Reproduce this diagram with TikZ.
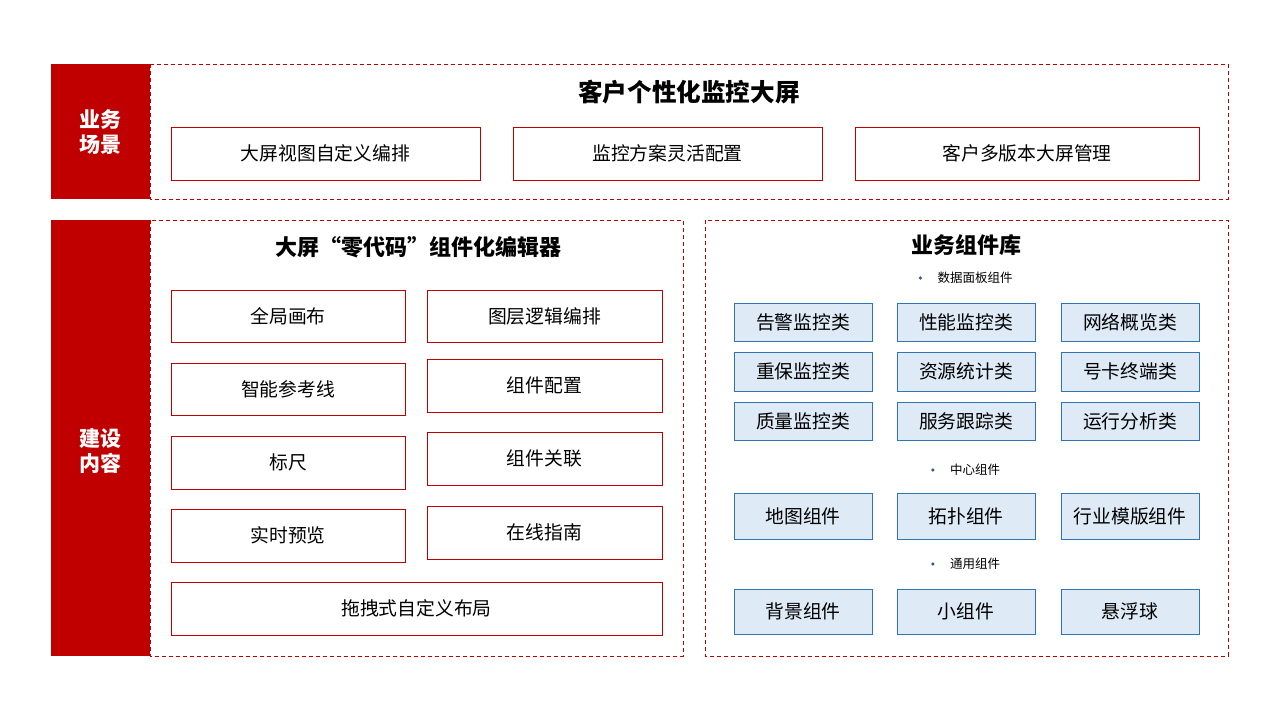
\documentclass[tikz,border=0pt]{standalone}
\usepackage{fontspec}
\setmainfont{Noto Sans CJK SC}
\usetikzlibrary{positioning}
\definecolor{darkred}{HTML}{C00000}
\definecolor{boxblue}{HTML}{2E75B6}
\definecolor{lightblue}{HTML}{DEEBF7}
\definecolor{dotblue}{HTML}{2F5597}
\tikzset{
	sidebar/.style={fill=darkred,draw=none,inner sep=0pt},
	sidetext/.style={text=white,font=\fontsize{21}{25}\selectfont\bfseries,align=center,inner sep=0pt},
	frame/.style={draw=darkred,dash pattern=on 4pt off 3pt,line width=0.8pt},
	redbox/.style={draw=darkred,line width=0.8pt,fill=white,font=\fontsize{18.8}{22}\selectfont,inner sep=0pt},
	bluebox/.style={draw=boxblue,line width=0.8pt,fill=lightblue,font=\fontsize{18.8}{22}\selectfont,inner sep=0pt,minimum width=138pt},
	heading/.style={font=\fontsize{22}{26}\selectfont\bfseries,inner sep=0pt},
	bulletlabel/.style={font=\fontsize{12.5}{15}\selectfont,inner sep=0pt}
}
\begin{document}
\begin{tikzpicture}[x=1pt,y=-1pt]
	\useasboundingbox (0,0) rectangle (1280,720);
	% business scenario
	\node[sidebar,minimum width=99pt,minimum height=135pt] (scene) at (100.5,131.5) {};
	\node[sidetext] (scenetext) at (100.5,132) {业务\\场景};
	\draw[frame] (150,64) rectangle (1228,199);
	\node[heading,font=\fontsize{24.6}{28}\selectfont\bfseries] (scenetitle) at (689,92) {客户个性化监控大屏};
	\node[redbox,minimum width=309pt,minimum height=53pt] (s1) at (325.5,153.5) {大屏视图自定义编排};
	\node[redbox,minimum width=309pt,minimum height=53pt] (s2) at (667.5,153.5) {监控方案灵活配置};
	\node[redbox,minimum width=344pt,minimum height=53pt] (s3) at (1027,153.5) {客户多版本大屏管理};
	% construction content
	\node[sidebar,minimum width=99pt,minimum height=436pt] (build) at (100.5,438) {};
	\node[sidetext] (buildtext) at (100.5,451) {建设\\内容};
	\draw[frame] (150,220) rectangle (683,656);
	\draw[frame] (705,220) rectangle (1228,656);
	\node[heading,font=\fontsize{22}{26}\selectfont\bfseries] (edittitle) at (418,247) {大屏“零代码”组件化编辑器};
	\node[redbox,minimum width=234pt,minimum height=52pt] (canvas) at (288,316) {全局画布};
	\node[redbox,minimum width=234pt,minimum height=52pt] (guide) at (288,389) {智能参考线};
	\node[redbox,minimum width=234pt,minimum height=53pt] (ruler) at (288,462.5) {标尺};
	\node[redbox,minimum width=234pt,minimum height=53pt] (preview) at (288,535.5) {实时预览};
	\node[redbox,minimum width=235pt,minimum height=52pt] (layer) at (544.5,316) {图层逻辑编排};
	\node[redbox,minimum width=235pt,minimum height=53pt] (config) at (544.5,385.5) {组件配置};
	\node[redbox,minimum width=235pt,minimum height=53pt] (link) at (544.5,458.5) {组件关联};
	\node[redbox,minimum width=235pt,minimum height=53pt] (help) at (544.5,532.5) {在线指南};
	\node[redbox,minimum width=491pt,minimum height=53pt] (drag) at (416.5,608.5) {拖拽式自定义布局};
	% component library
	\node[heading] (libtitle) at (966,245) {业务组件库};
	\node[bulletlabel] (panel) at (975,278) {数据面板组件};
	\fill[dotblue] ([xshift=-17pt]panel.west) circle (1.8pt);
	\node[bluebox,minimum height=38pt] (alarm) at (803,322) {告警监控类};
	\node[bluebox,minimum height=38pt] (perf) at (966,322) {性能监控类};
	\node[bluebox,minimum height=38pt] (net) at (1130,322) {网络概览类};
	\node[bluebox,minimum height=39pt] (vip) at (803,371.5) {重保监控类};
	\node[bluebox,minimum height=39pt] (res) at (966,371.5) {资源统计类};
	\node[bluebox,minimum height=39pt] (card) at (1130,371.5) {号卡终端类};
	\node[bluebox,minimum height=38pt] (quality) at (803,421) {质量监控类};
	\node[bluebox,minimum height=38pt] (trace) at (966,421) {服务跟踪类};
	\node[bluebox,minimum height=38pt] (ops) at (1130,421) {运行分析类};
	\node[bulletlabel] (center) at (975,470) {中心组件};
	\fill[dotblue] ([xshift=-17pt]center.west) circle (1.8pt);
	\node[bluebox,minimum height=46pt] (map) at (803,516) {地图组件};
	\node[bluebox,minimum height=46pt] (topo) at (966,516) {拓扑组件};
	\node[bluebox,minimum height=46pt] (tmpl) at (1130,516) {行业模版组件};
	\node[bulletlabel] (common) at (975,564) {通用组件};
	\fill[dotblue] ([xshift=-17pt]common.west) circle (1.8pt);
	\node[bluebox,minimum height=45pt] (bg) at (803,611.5) {背景组件};
	\node[bluebox,minimum height=45pt] (widget) at (966,611.5) {小组件};
	\node[bluebox,minimum height=45pt] (ball) at (1130,611.5) {悬浮球};
\end{tikzpicture}
\end{document}
